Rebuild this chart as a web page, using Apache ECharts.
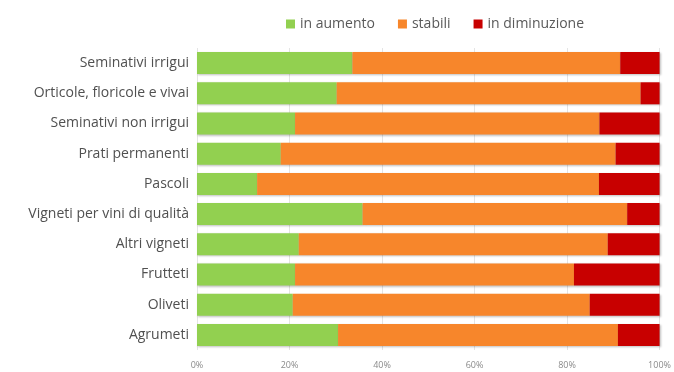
<!DOCTYPE html>
<html>
<head>
<meta charset="utf-8">
<script src="https://cdn.jsdelivr.net/npm/echarts@6/dist/echarts.min.js"></script>
<style>
  html, body { margin: 0; padding: 0; background: #fff; }
  #chart { width: 674px; height: 372px; }
</style>
</head>
<body>
<div id="chart"></div>
<script>
const categories = ['Seminativi irrigui', 'Orticole, floricole e vivai', 'Seminativi non irrigui',
  'Prati permanenti', 'Pascoli', 'Vigneti per vini di qualità', 'Altri vigneti',
  'Frutteti', 'Oliveti', 'Agrumeti'];
const inAumento = [33.6, 30.2, 21.2, 18.1, 13.0, 35.8, 22.0, 21.2, 20.7, 30.5];
const stabili = [57.9, 65.7, 65.8, 72.4, 73.9, 57.2, 66.8, 60.3, 64.2, 60.5];
const inDiminuzione = [8.5, 4.1, 13.0, 9.5, 13.1, 7.0, 11.2, 18.5, 15.1, 9.0];

const chart = echarts.init(document.getElementById('chart'));
const font = 'Open Sans';
const shadow = { shadowColor: 'rgba(0,0,0,0.25)', shadowBlur: 2, shadowOffsetX: 1, shadowOffsetY: 1 };

function bar(name, data, color) {
    return {
        name: name,
        type: 'bar',
        stack: 'tot',
        data: data,
        barWidth: '73%',
        itemStyle: Object.assign({ color: color }, shadow)
    };
}

const option = {
    animation: false,
    color: ['#92D050', '#F7862B', '#C80000'],
    legend: {
        top: 12,
        left: 281,
        itemWidth: 9,
        itemHeight: 9,
        itemGap: 23,
        icon: 'rect',
        textStyle: { fontFamily: font, fontSize: 14, color: '#595959', padding: [0, 0, 0, 0] },
        data: ['in aumento', 'stabili', 'in diminuzione']
    },
    grid: { left: 197, right: 14, top: 48, bottom: 22 },
    xAxis: {
        type: 'value',
        min: 0,
        max: 100,
        interval: 20,
        axisLine: { show: false },
        axisTick: { show: false },
        axisLabel: { fontFamily: font, fontSize: 9, color: '#8a8a8a', formatter: '{value}%', margin: 11 },
        splitLine: { lineStyle: { color: '#e4e4e4' } }
    },
    yAxis: {
        type: 'category',
        inverse: true,
        data: categories,
        axisLine: { show: false },
        axisTick: { show: false },
        axisLabel: { fontFamily: font, fontSize: 14, color: '#505050', margin: 8 }
    },
    series: [
        bar('in aumento', inAumento, '#92D050'),
        bar('stabili', stabili, '#F7862B'),
        bar('in diminuzione', inDiminuzione, '#C80000')
    ]
};
chart.setOption(option);
</script>
</body>
</html>
